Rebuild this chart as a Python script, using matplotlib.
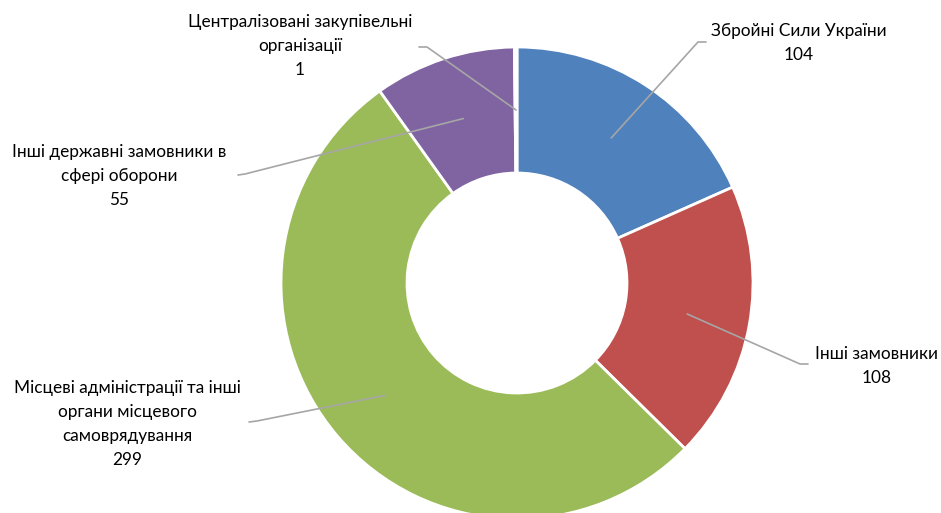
import numpy as np
import matplotlib.pyplot as plt

# дані
categories = ['Збройні Сили України\n{}',
              'Інші замовники\n{}',
              'Місцеві адміністрації та інші\nоргани місцевого\nсамоврядування\n{}',
              'Інші державні замовники в\nсфері оборони\n{}',
              'Централізовані закупівельні\nорганізації\n{}']
values = [104, 108, 299, 55, 1]
colors = ['#4F81BD', '#C0504D', '#9BBB59', '#8064A2', '#4BACC6']

W, H = 941, 513
fig = plt.figure(figsize=(W / 100, H / 100), dpi=100)
ax = fig.add_axes([0, 0, 1, 1])

cx, cy, R = 517, H - 283, 236
wedges, _ = ax.pie(values, colors=colors, startangle=90, counterclock=False,
                   center=(cx, cy), radius=R, frame=True,
                   wedgeprops=dict(width=126, edgecolor='white', linewidth=2))
ax.set_xlim(0, W)
ax.set_ylim(0, H)
ax.set_aspect('equal')
ax.axis('off')

# положення підписів (пікселі зверху) та кінці виносок
label_pos = [(799, 43), (877, 366), (127, 424), (119, 176), (300, 46)]
elbow = [((698, 42), (706, 42)),
         ((800, 364), (808, 364)),
         ((257, 421), (249, 422)),
         ((245, 174), (238, 175)),
         ((427, 47), (419, 47))]

rmid = R - 63
for w, lab, v, (lx, ly), (e1, e2) in zip(wedges, categories, values, label_pos, elbow):
    ang = np.deg2rad((w.theta1 + w.theta2) / 2)
    sx, sy = cx + rmid * np.cos(ang), cy + rmid * np.sin(ang)
    ax.plot([sx, e1[0], e2[0]], [sy, H - e1[1], H - e2[1]], color='#A6A6A6', lw=1.2,
            solid_capstyle='round')
    ax.text(lx, H - ly, lab.format(v), ha='center', va='center', multialignment='center',
            fontsize=12.4, family=['Lato', 'DejaVu Sans'], color='black', linespacing=1.6)

fig.savefig('out.png', dpi=100)
